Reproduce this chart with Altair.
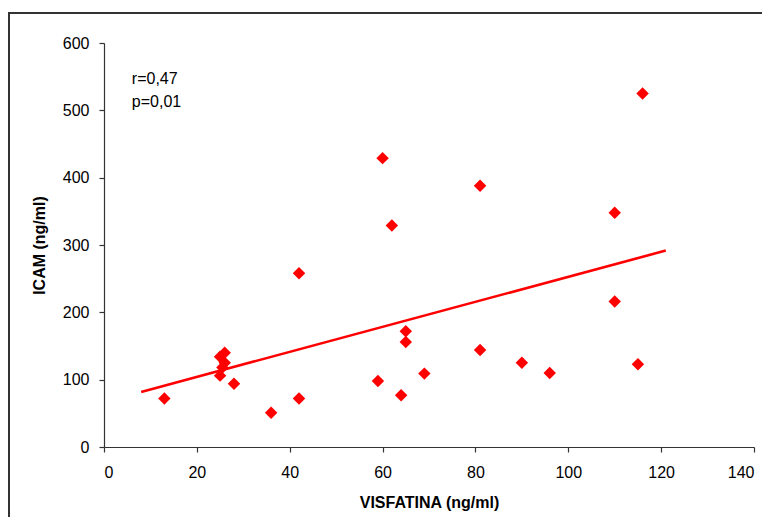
import altair as alt
import pandas as pd

# Data
visfatina = [13, 25, 26, 26, 25.5, 25, 28, 36, 42, 42, 59, 60, 62, 64, 65, 65,
             69, 81, 81, 90, 96, 110, 110, 115, 116]
icam = [72, 134, 140, 125, 118, 106, 94, 51, 72, 258, 98, 429, 329, 77, 172, 156,
        109, 388, 144, 125, 110, 348, 216, 123, 525]
trend_extent = [8, 121]
ann_labels = ["r=0,47", "p=0,01"]
ann_x = [6, 6]
ann_y = [546, 512]
x_ticks = [0, 20, 40, 60, 80, 100, 120, 140]
y_ticks = [0, 100, 200, 300, 400, 500, 600]

df = pd.DataFrame({"VISFATINA": visfatina, "ICAM": icam})
ann = pd.DataFrame({"label": ann_labels, "x": ann_x, "y": ann_y})

FONT = "Liberation Sans"
RED = "#FF0000"

xscale = alt.Scale(domain=[0, 140], nice=False, zero=False)
yscale = alt.Scale(domain=[0, 600], nice=False, zero=False)

xaxis = alt.Axis(values=x_ticks, title="VISFATINA (ng/ml)", grid=False,
                 labelPadding=12, titlePadding=14, tickSize=5)
yaxis = alt.Axis(values=y_ticks, title="ICAM (ng/ml)", grid=False,
                 labelPadding=10, titlePadding=15, tickSize=5)

points = alt.Chart(df).mark_point(
    shape="diamond", filled=True, color=RED, size=155, opacity=1
).encode(
    x=alt.X("VISFATINA:Q", scale=xscale, axis=xaxis),
    y=alt.Y("ICAM:Q", scale=yscale, axis=yaxis),
)

trend = alt.Chart(df).transform_regression(
    "VISFATINA", "ICAM", extent=trend_extent
).mark_line(color=RED, strokeWidth=2.6).encode(
    x=alt.X("VISFATINA:Q", scale=xscale),
    y=alt.Y("ICAM:Q", scale=yscale),
)

text = alt.Chart(ann).mark_text(
    align="left", baseline="middle", font=FONT, fontSize=16, color="black"
).encode(
    x=alt.X("x:Q", scale=xscale),
    y=alt.Y("y:Q", scale=yscale),
    text="label:N",
)

frame_left = alt.Chart(alt.Data(values=[{}])).mark_rule(
    color="#333333", strokeWidth=2
).encode(x=alt.value(-95), y=alt.value(-31), y2=alt.value(500))

frame_top = alt.Chart(alt.Data(values=[{}])).mark_rule(
    color="#333333", strokeWidth=2
).encode(y=alt.value(-30), x=alt.value(-96), x2=alt.value(700))

chart = alt.layer(frame_left, frame_top, trend, points, text).properties(
    width=650,
    height=404,
    padding={"left": 96, "top": 35, "right": 8, "bottom": 70},
    autosize=alt.AutoSizeParams(type="none"),
    background="white",
).configure_view(
    stroke=None
).configure_axis(
    domainColor="#333333",
    domainWidth=1.2,
    tickColor="#333333",
    tickWidth=1.2,
    labelColor="black",
    labelFont=FONT,
    labelFontSize=16,
    titleFont=FONT,
    titleFontSize=16,
    titleFontWeight="bold",
    titleColor="black",
)

chart.save("out.html", embed_options={"renderer": "svg", "actions": False})
